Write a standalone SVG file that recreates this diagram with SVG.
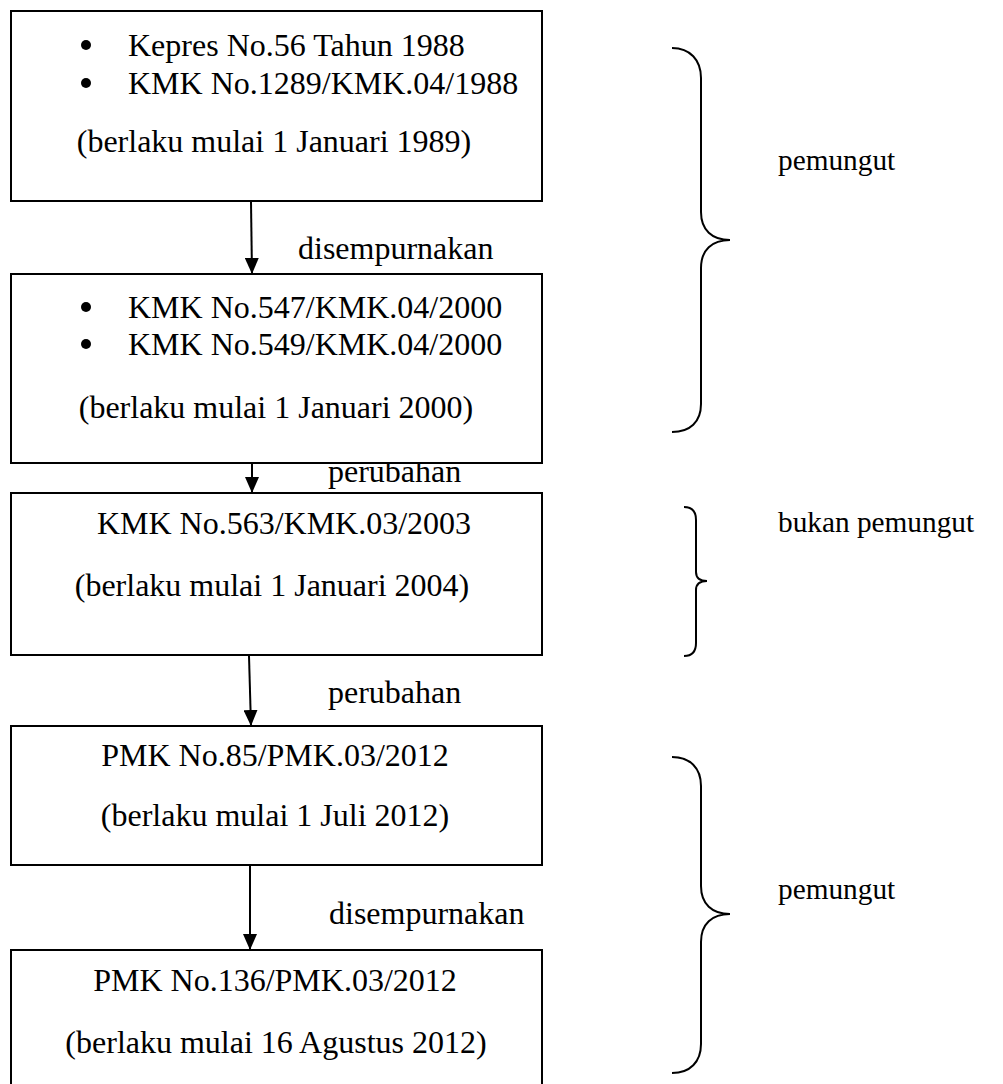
<svg xmlns="http://www.w3.org/2000/svg" width="1003" height="1084" viewBox="0 0 1003 1084">
<style>
  .box{fill:#fff;stroke:#000;stroke-width:2}
  .t{font-family:"Liberation Serif","Times New Roman",serif;font-size:32px;fill:#000}
  .s{font-family:"Liberation Serif","Times New Roman",serif;font-size:29.3px;fill:#000}
  .c{text-anchor:middle}
  .ln{stroke:#000;stroke-width:2;fill:none}
  .br{stroke:#000;stroke-width:2;fill:none}
</style>
<defs>
  <marker id="ah" markerWidth="16" markerHeight="14" refX="16" refY="7" orient="auto" markerUnits="userSpaceOnUse" viewBox="0 0 16 14">
    <path d="M0,0 L16,7 L0,14 Z" fill="#000"/>
  </marker>
</defs>
<rect width="1003" height="1084" fill="#fff"/>

<g id="connectors">
  <line class="ln" x1="251" y1="202" x2="252" y2="274" marker-end="url(#ah)"/>
  <line class="ln" x1="252" y1="464" x2="252" y2="493" marker-end="url(#ah)"/>
  <line class="ln" x1="249" y1="656" x2="251" y2="726" marker-end="url(#ah)"/>
  <line class="ln" x1="250" y1="866" x2="250" y2="950" marker-end="url(#ah)"/>
  <text class="t" x="298" y="259">disempurnakan</text>
  <text class="t" x="328" y="482">perubahan</text>
  <text class="t" x="328" y="703">perubahan</text>
  <text class="t" x="329" y="924">disempurnakan</text>
</g>

<g id="node1">
  <rect class="box" x="11" y="11" width="531" height="190"/>
  <circle cx="86" cy="45" r="5"/>
  <text class="t" x="128" y="56">Kepres No.56 Tahun 1988</text>
  <circle cx="86" cy="83" r="5"/>
  <text class="t" x="128" y="94">KMK No.1289/KMK.04/1988</text>
  <text class="t c" x="274" y="152">(berlaku mulai 1 Januari 1989)</text>
</g>

<g id="node2">
  <rect class="box" x="11" y="274" width="531" height="189"/>
  <circle cx="86" cy="307" r="5"/>
  <text class="t" x="128" y="318">KMK No.547/KMK.04/2000</text>
  <circle cx="86" cy="344" r="5"/>
  <text class="t" x="128" y="355">KMK No.549/KMK.04/2000</text>
  <text class="t c" x="276" y="418">(berlaku mulai 1 Januari 2000)</text>
</g>

<g id="node3">
  <rect class="box" x="11" y="493" width="531" height="162"/>
  <text class="t c" x="284" y="534">KMK No.563/KMK.03/2003</text>
  <text class="t c" x="272" y="596">(berlaku mulai 1 Januari 2004)</text>
</g>

<g id="node4">
  <rect class="box" x="11" y="726" width="531" height="139"/>
  <text class="t c" x="275" y="766">PMK No.85/PMK.03/2012</text>
  <text class="t c" x="275" y="826">(berlaku mulai 1 Juli 2012)</text>
</g>

<g id="node5">
  <rect class="box" x="11" y="950" width="531" height="150"/>
  <text class="t c" x="275" y="991">PMK No.136/PMK.03/2012</text>
  <text class="t c" x="276" y="1053">(berlaku mulai 16 Agustus 2012)</text>
</g>

<g id="brace1">
  <path class="br" d="M672,48 C690,48 701,60 701,78 L701,212 C701,230 712,240 730,240 C712,240 701,250 701,268 L701,404 C701,422 690,432 672,432"/>
  <text class="s" x="778" y="170">pemungut</text>
</g>

<g id="brace2">
  <path class="br" d="M684,507 C692,507 696,512 696,520 L696,572 C696,578 700,581 707,581 C700,581 696,584 696,590 L696,643 C696,651 692,656 684,656"/>
  <text class="s" x="778" y="532">bukan pemungut</text>
</g>

<g id="brace3">
  <path class="br" d="M672,757 C690,757 701,768 701,786 L701,886 C701,904 712,914 730,914 C712,914 701,924 701,942 L701,1044 C701,1062 690,1073 672,1073"/>
  <text class="s" x="778" y="899">pemungut</text>
</g>
</svg>
